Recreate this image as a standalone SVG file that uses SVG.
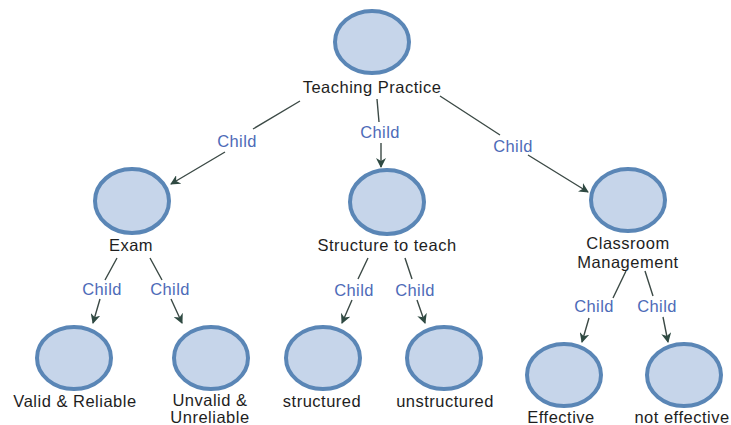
<svg xmlns="http://www.w3.org/2000/svg" width="731" height="425" viewBox="0 0 731 425">
<style>
.n{fill:#c6d5ea;stroke:#5a86b6;stroke-width:4}
.t{font-family:"Liberation Sans",Arial,sans-serif;font-size:16.5px;fill:#1e1e1e;text-anchor:middle;letter-spacing:0.5px}
.c{font-family:"Liberation Sans",Arial,sans-serif;font-size:16.5px;fill:#4e6bb8;text-anchor:middle;letter-spacing:0.4px}
.e{fill:none;stroke:#3c4a46;stroke-width:1.4;marker-end:url(#ah)}
</style>
<defs>
<marker id="ah" viewBox="0 0 10 10" refX="9" refY="5" markerWidth="10" markerHeight="10" markerUnits="userSpaceOnUse" orient="auto">
<path d="M0,0 L10,5 L0,10 L3,5 Z" fill="#2f4a42"/>
</marker>
</defs>
<rect width="731" height="425" fill="#ffffff"/>
<g id="connectors">
<path class="e" d="M300,101 L253,129 M225,152 L171,184"/>
<path class="e" d="M377,99 L379,122 M381,143 L381,167"/>
<path class="e" d="M440,96 L500,135 M528,155 L588,192"/>
<path class="e" d="M117,258 L105,280 M100,299 L93,323"/>
<path class="e" d="M150,258 L162,280 M171,299 L182,323"/>
<path class="e" d="M368,258 L358,279 M352,300 L342,323"/>
<path class="e" d="M405,258 L412,279 M417,300 L425,323"/>
<path class="e" d="M626,271 L613,298 M589,318 L582,342"/>
<path class="e" d="M645,271 L653,296 M663,317 L668,342"/>
<text class="c" x="237" y="147">Child</text>
<text class="c" x="380" y="138">Child</text>
<text class="c" x="513" y="152">Child</text>
<text class="c" x="102" y="295">Child</text>
<text class="c" x="170" y="295">Child</text>
<text class="c" x="354" y="296">Child</text>
<text class="c" x="415" y="296">Child</text>
<text class="c" x="594" y="312">Child</text>
<text class="c" x="657" y="312">Child</text>
</g>
<g id="teaching-practice">
<ellipse class="n" cx="372" cy="42" rx="37" ry="31"/>
<text class="t" x="372" y="93">Teaching Practice</text>
</g>
<g id="exam">
<ellipse class="n" cx="132" cy="201" rx="37" ry="32"/>
<text class="t" x="131" y="251">Exam</text>
</g>
<g id="structure-to-teach">
<ellipse class="n" cx="387" cy="202" rx="37" ry="32"/>
<text class="t" x="387" y="251">Structure to teach</text>
</g>
<g id="classroom-management">
<ellipse class="n" cx="628" cy="200" rx="37" ry="31"/>
<text class="t" x="628" y="249">Classroom</text>
<text class="t" x="628" y="268">Management</text>
</g>
<g id="valid-reliable">
<ellipse class="n" cx="74" cy="358" rx="37" ry="31"/>
<text class="t" x="75" y="407">Valid &amp; Reliable</text>
</g>
<g id="unvalid-unreliable">
<ellipse class="n" cx="211" cy="358" rx="37" ry="31"/>
<text class="t" x="210" y="406">Unvalid &amp;</text>
<text class="t" x="210" y="423">Unreliable</text>
</g>
<g id="structured">
<ellipse class="n" cx="323" cy="358" rx="37" ry="31"/>
<text class="t" x="322" y="407">structured</text>
</g>
<g id="unstructured">
<ellipse class="n" cx="444" cy="358" rx="37" ry="31"/>
<text class="t" x="445" y="407">unstructured</text>
</g>
<g id="effective">
<ellipse class="n" cx="564" cy="375" rx="37" ry="31"/>
<text class="t" x="561" y="423">Effective</text>
</g>
<g id="not-effective">
<ellipse class="n" cx="684" cy="375" rx="37" ry="31"/>
<text class="t" x="682" y="423">not effective</text>
</g>
</svg>
